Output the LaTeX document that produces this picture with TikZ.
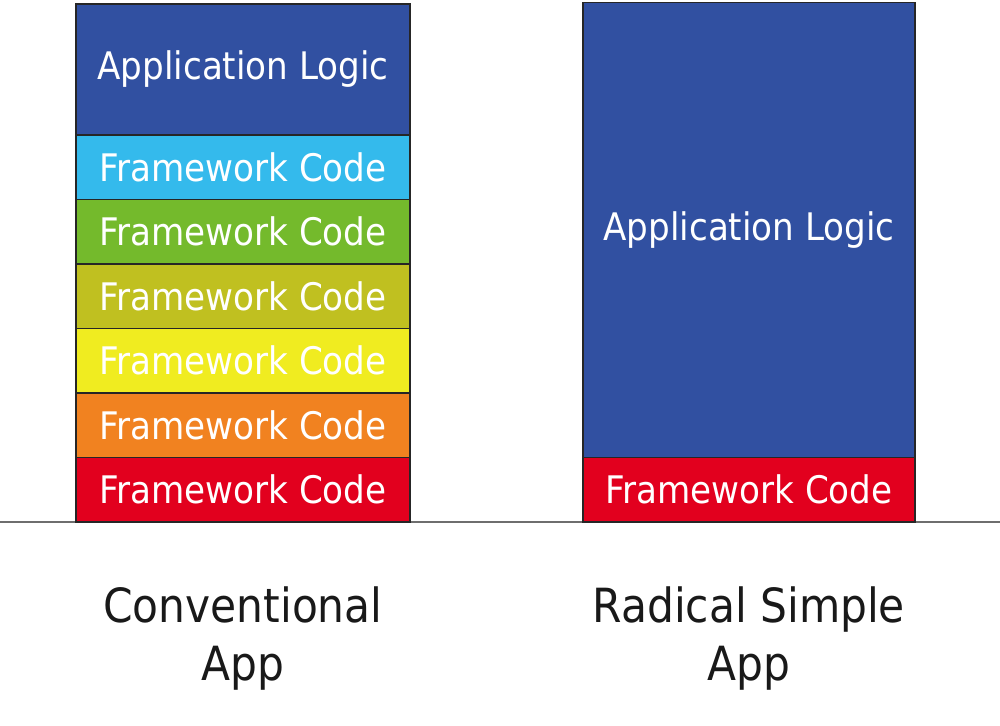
\documentclass[tikz,border=0pt]{standalone}
\usepackage{fontspec}
\setmainfont{DejaVu Sans Condensed}
\usepackage{tikz}
\usetikzlibrary{positioning}
\usepackage{xcolor}
\definecolor{LogicB} {RGB}{49, 80, 161}
\definecolor{FwCyan} {RGB}{52, 186, 236}
\definecolor{FwGreen}{RGB}{116,186, 44}
\definecolor{FwOlive}{RGB}{192,192, 32}
\definecolor{FwYell} {RGB}{240,236, 32}
\definecolor{FwOrng} {RGB}{241,130, 32}
\definecolor{FwRed}  {RGB}{226,  0, 30}
\definecolor{GroundG}{RGB}{110,110,110}

\tikzset{
  layer/.style={draw=black!85,line width=1.1pt,text=white,inner sep=0pt,outer sep=0pt,
    minimum width=6.68cm,minimum height=1.29cm,font=\fontsize{21.6}{26}\selectfont},
  caption/.style={align=center,text=black!90,font=\fontsize{26.8}{33}\selectfont}
}

\begin{document}
\begin{tikzpicture}
  \useasboundingbox (0,0) rectangle (20,14.52);
  \coordinate (g0) at (0,4.08);
  \coordinate (g1) at (20,4.08);
  \draw[GroundG,line width=1.2pt] (g0) -- (g1);

  % conventional stack
  \node[layer,fill=FwRed,anchor=south] (c1) at (4.86,4.08) {Framework Code};
  \foreach \i/\j/\col in {2/1/FwOrng,3/2/FwYell,4/3/FwOlive,5/4/FwGreen,6/5/FwCyan}
    \node[layer,fill=\col,above=0pt of c\j] (c\i) {Framework Code};
  \node[layer,fill=LogicB,minimum height=2.62cm,above=0pt of c6] (clogic) {Application Logic};

  % radical simple stack
  \node[layer,fill=FwRed,minimum width=6.64cm,anchor=south] (r1) at (14.98,4.08) {Framework Code};
  \node[layer,fill=LogicB,minimum width=6.64cm,minimum height=9.1cm,above=0pt of r1] (rlogic) {Application Logic};

  \node[caption] (conv) at (4.86,1.74) {Conventional\\App};
  \node[caption] (rad) at (14.98,1.74) {Radical Simple\\App};
\end{tikzpicture}
\end{document}
